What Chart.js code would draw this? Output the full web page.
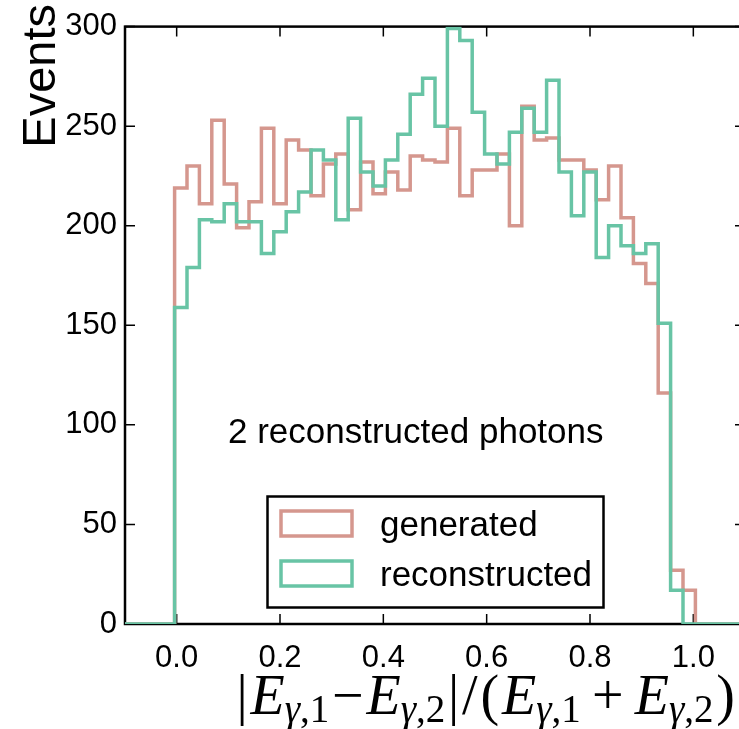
<!DOCTYPE html>
<html>
<head>
<meta charset="utf-8">
<script src="https://cdn.jsdelivr.net/npm/chart.js@4"></script>
<style>
html,body{margin:0;padding:0;overflow:hidden;background:#fff}
#wrap{position:relative;width:750px;height:729px}
</style>
</head>
<body>
<div id="wrap"><canvas id="canvas" width="750" height="729"></canvas></div>
<script>
// 50 bins from -0.1 to 1.1
const binStart = -0.1;
const binWidth = 0.024;
const generated = [0,0,0,0,
    219,230,211,253,221,199,212,249,211,243,
    238,215,231,236,208,232,216,227,218,235,
    233,232,249,215,228,228,236,200,260,243,
    244,233,233,228,213,230,204,181,171,116,
    27,17,
    0,0,0,0];
const reconstructed = [0,0,0,0,
    159,179,203,202,211,202,202,186,197,207,
    217,238,233,203,254,227,220,233,246,266,
    274,250,299,293,257,236,231,247,259,247,
    273,227,205,227,184,200,190,186,191,151,
    17,0,
    0,0,0,0];
const xTicks = [0.0,0.2,0.4,0.6,0.8,1.0];
const yTicks = [0,50,100,150,200,250,300];
const seriesNames = ['generated','reconstructed'];
const seriesColors = ['rgb(213,151,142)','rgb(104,196,165)'];
const note = '2 reconstructed photons';

const SANS = '"Liberation Sans", Arial, Helvetica, sans-serif';
const SERIF = '"Liberation Serif", "Times New Roman", serif';

function stepPoints(counts) {
    let pts = counts.map((c,i)=>({x:binStart+i*binWidth, y:c}));
    pts.push({x:binStart+counts.length*binWidth, y:counts[counts.length-1]});
    return pts;
}

// |E_{γ,1}−E_{γ,2}|/(E_{γ,1}+E_{γ,2})  -> [text, italic, subscript, gapBefore (em)]
const xTitle = [
    ['|',0,0,0],['E',1,0,0.05],['γ',1,1,0],[',1',0,1,0],
    ['−',0,0,0.05],['E',1,0,0.05],['γ',1,1,0],[',2',0,1,0],
    ['|',0,0,0.05],['/',0,0,0.05],['(',0,0,0.05],['E',1,0,0.05],['γ',1,1,0],[',1',0,1,0],
    ['+',0,0,0.2],['E',1,0,0.2],['γ',1,1,0],[',2',0,1,0],[')',0,0,0.05]
];

function drawMath(ctx, parts, right, baseline, size) {
    let subSize = Math.round(size*0.7);
    let font = (p)=>`${p[1]?'italic ':''}${p[2]?subSize:size}px ${SERIF}`;
    let total = 0;
    for (let p of parts) { ctx.font = font(p); total += p[3]*size + ctx.measureText(p[0]).width; }
    let x = right - total;
    ctx.textAlign = 'left';
    ctx.textBaseline = 'alphabetic';
    for (let p of parts) {
        ctx.font = font(p);
        x += p[3]*size;
        ctx.fillText(p[0], x, baseline + (p[2] ? size*0.14 : 0));
        x += ctx.measureText(p[0]).width;
    }
}

const framePlugin = {
    id:'frame',
    beforeDatasetsDraw(chart) {
        let {ctx, chartArea:a, scales} = chart;
        ctx.save();
        ctx.strokeStyle = '#000';
        ctx.lineWidth = 2.5;
        ctx.strokeRect(a.left, a.top, a.right-a.left, a.bottom-a.top);
        ctx.lineWidth = 1.5;
        ctx.beginPath();
        for (let v of xTicks) {
            let x = scales.x.getPixelForValue(v);
            ctx.moveTo(x, a.bottom); ctx.lineTo(x, a.bottom-10);
            ctx.moveTo(x, a.top); ctx.lineTo(x, a.top+10);
        }
        for (let v of yTicks) {
            let y = scales.y.getPixelForValue(v);
            ctx.moveTo(a.left, y); ctx.lineTo(a.left+10, y);
            ctx.moveTo(a.right, y); ctx.lineTo(a.right-10, y);
        }
        ctx.stroke();
        ctx.restore();
    },
    afterDraw(chart) {
        let {ctx} = chart;
        ctx.save();
        ctx.fillStyle = '#000';
        // annotation
        ctx.font = `35px ${SANS}`;
        ctx.textAlign = 'left';
        ctx.textBaseline = 'alphabetic';
        ctx.fillText(note, 228, 443);
        // legend
        ctx.strokeStyle = '#000';
        ctx.lineWidth = 2.5;
        ctx.strokeRect(267.5, 496.5, 336, 111);
        seriesNames.forEach((name,i)=>{
            let y = 511 + i*50;
            ctx.strokeStyle = seriesColors[i];
            ctx.lineWidth = 3.5;
            ctx.strokeRect(281, y, 71, 25);
            ctx.fillText(name, 380, y+25);
        });
        // y title
        ctx.save();
        ctx.translate(55, 4);
        ctx.rotate(-Math.PI/2);
        ctx.font = `47px ${SANS}`;
        ctx.textAlign = 'right';
        ctx.fillText('Events', 0, 0);
        ctx.restore();
        // x title
        drawMath(ctx, xTitle, 735, 714, 56);
        ctx.restore();
    }
};

const tickFont = {family:SANS, size:31};

new Chart(document.getElementById('canvas'), {
    type:'line',
    data:{
        datasets:[
            {label:seriesNames[0], data:stepPoints(generated), borderColor:seriesColors[0], order:2},
            {label:seriesNames[1], data:stepPoints(reconstructed), borderColor:seriesColors[1], order:1}
        ].map(d=>Object.assign(d,{stepped:'before', borderWidth:3.5, pointRadius:0, fill:false, tension:0}))
    },
    options:{
        responsive:false,
        animation:false,
        devicePixelRatio:1,
        layout:{padding:{left:0, top:21, right:5, bottom:0}},
        plugins:{legend:{display:false}, tooltip:{enabled:false}},
        scales:{
            x:{
                type:'linear', min:-0.1, max:1.1,
                grid:{display:false, drawTicks:false}, border:{display:false},
                afterBuildTicks:s=>{ s.ticks = xTicks.map(v=>({value:v})); },
                afterFit:s=>{ s.height = 105; },
                ticks:{font:tickFont, color:'#000', padding:16, maxRotation:0, autoSkip:false,
                    callback:v=>v.toFixed(1)}
            },
            y:{
                min:0, max:300,
                grid:{display:false, drawTicks:false}, border:{display:false},
                afterBuildTicks:s=>{ s.ticks = yTicks.map(v=>({value:v})); },
                afterFit:s=>{ s.width = 125; },
                ticks:{font:tickFont, color:'#000', padding:8, autoSkip:false,
                    callback:v=>String(v)}
            }
        }
    },
    plugins:[framePlugin]
});
</script>
</body>
</html>
